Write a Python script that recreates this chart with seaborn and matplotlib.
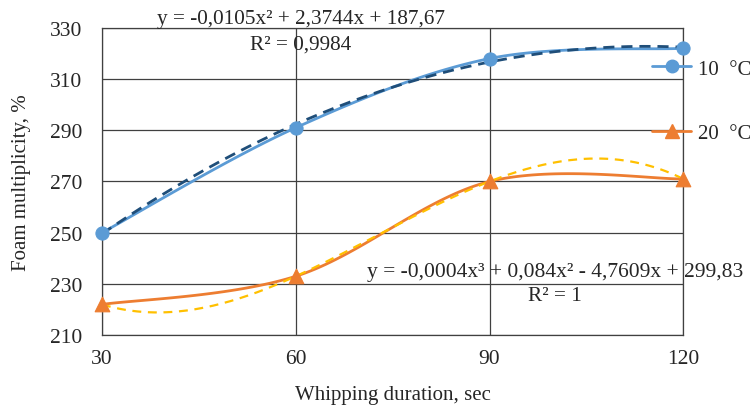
import numpy as np
import pandas as pd
import seaborn as sns
import matplotlib.pyplot as plt

# data
duration = [30, 60, 90, 120]
foam_10 = [250, 291, 318, 322]
foam_20 = [222, 233, 270, 271]
series_names = ["10  °C", "20  °C"]
eq_10 = "y = -0,0105x² + 2,3744x + 187,67"
r2_10 = "R² = 0,9984"
eq_20 = "y = -0,0004x³ + 0,084x² - 4,7609x + 299,83"
r2_20 = "R² = 1"

blue = "#5B9BD5"
orange = "#ED7D31"
dark_blue = "#1F4E79"
yellow = "#FFC000"


def smooth(x, y, n=40):
    # Excel-style smoothed line (Catmull-Rom through the points)
    x = np.asarray(x, float)
    y = np.asarray(y, float)
    px = np.concatenate([[x[0]], x, [x[-1]]])
    py = np.concatenate([[y[0]], y, [y[-1]]])
    xs, ys = [], []
    t = np.linspace(0, 1, n)
    for i in range(1, len(px) - 2):
        p0, p1, p2, p3 = [np.array([px[j], py[j]]) for j in (i - 1, i, i + 1, i + 2)]
        c1 = p1 + (p2 - p0) / 6
        c2 = p2 - (p3 - p1) / 6
        b = ((1 - t) ** 3)[:, None] * p1 + (3 * (1 - t) ** 2 * t)[:, None] * c1 \
            + (3 * (1 - t) * t ** 2)[:, None] * c2 + (t ** 3)[:, None] * p2
        xs.extend(b[:, 0])
        ys.extend(b[:, 1])
    return pd.DataFrame({"x": xs, "y": ys})


sns.set_theme(style="white")
plt.rcParams['font.family'] = ['Liberation Serif', 'DejaVu Serif']

fig = plt.figure(figsize=(7.5, 4.06), dpi=100)
ax = fig.add_axes([0.136, 0.172, 0.775, 0.757])

xfit = np.linspace(30, 120, 200)
fit_10 = np.polyval(np.polyfit(duration, foam_10, 2), xfit)
fit_20 = np.polyval(np.polyfit(duration, foam_20, 3), xfit)

s10 = smooth(duration, foam_10)
s20 = smooth(duration, foam_20)
sns.lineplot(data=s10, x="x", y="y", color=blue, lw=2, sort=False, ax=ax)
sns.lineplot(data=s20, x="x", y="y", color=orange, lw=2, sort=False, ax=ax)
sns.lineplot(x=xfit, y=fit_10, color=dark_blue, lw=2, ax=ax)
sns.lineplot(x=xfit, y=fit_20, color=yellow, lw=1.6, ax=ax)
ax.lines[2].set_linestyle((0, (4, 2.5)))
ax.lines[3].set_linestyle((0, (4, 3)))
sns.scatterplot(x=duration, y=foam_10, color=blue, marker="o", s=90,
                edgecolor=blue, ax=ax, zorder=5, clip_on=False)
sns.scatterplot(x=duration, y=foam_20, color=orange, marker="^", s=110,
                edgecolor=orange, ax=ax, zorder=5, clip_on=False)

ax.set_xlim(30, 120)
ax.set_ylim(210, 330)
ax.set_xticks([30, 60, 90, 120])
ax.set_yticks(range(210, 331, 20))
ax.grid(True, color="#404040", lw=0.9)
for s in ax.spines.values():
    s.set_color("#404040")
    s.set_linewidth(0.9)
ax.tick_params(labelsize=15.5, length=0)
ax.tick_params(axis="y", pad=14)
ax.tick_params(axis="x", pad=10)
ax.set_xlabel("Whipping duration, sec", fontsize=15, labelpad=12)
ax.set_ylabel("Foam multiplicity, %", fontsize=15, labelpad=14)

ax.text(38.5, 333.5, eq_10, fontsize=15.3, ha="left", va="center", clip_on=False)
ax.text(60.8, 323.7, r2_10, fontsize=15.3, ha="center", va="center")
ax.text(71.0, 234.7, eq_20, fontsize=15.5, ha="left", va="center", clip_on=False)
ax.text(100.2, 225.3, r2_20, fontsize=15.3, ha="center", va="center")

h1 = plt.Line2D([], [], color=blue, lw=2, marker="o", ms=9)
h2 = plt.Line2D([], [], color=orange, lw=2, marker="^", ms=10)
fig.legend([h1, h2], series_names, loc="upper left", bbox_to_anchor=(0.869, 0.852),
           frameon=False, fontsize=15, handlelength=1.9, handletextpad=0.3,
           labelspacing=2.15, borderpad=0, borderaxespad=0)

fig.savefig("out.png", dpi=100)
